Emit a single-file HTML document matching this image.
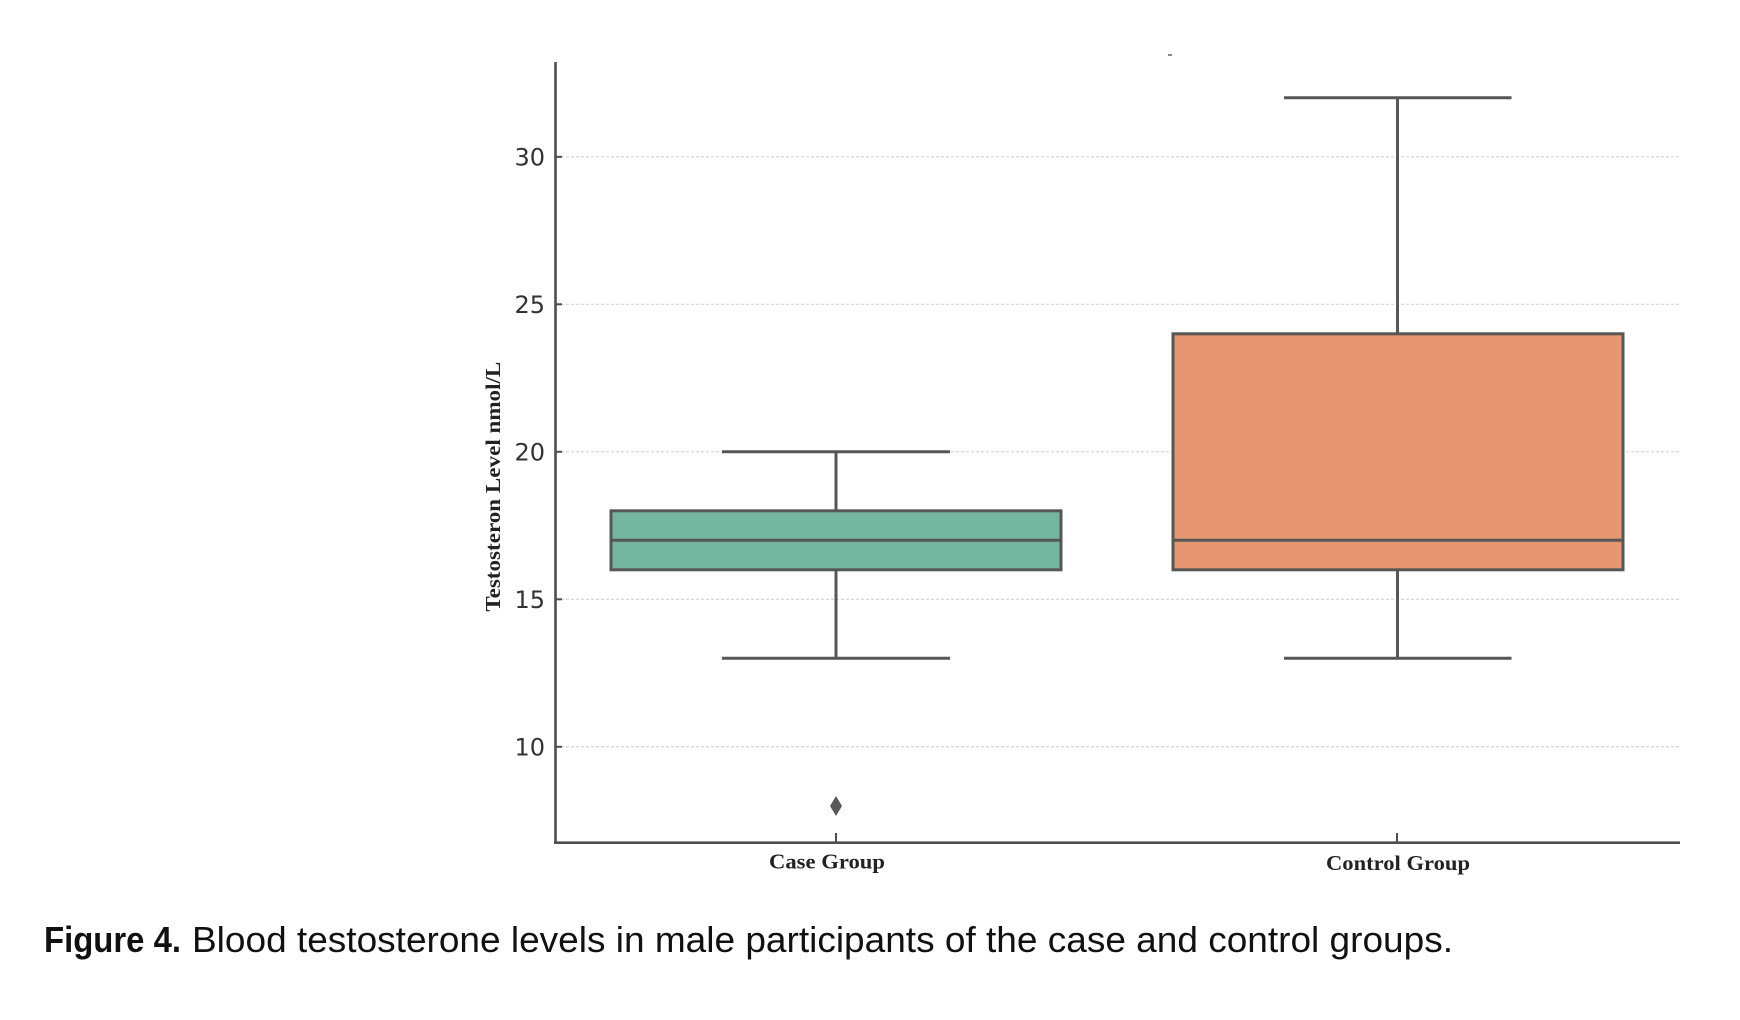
<!DOCTYPE html>
<html>
<head>
<meta charset="utf-8">
<style>
  html, body { margin: 0; padding: 0; background: #ffffff; }
  svg { display: block; }
</style>
</head>
<body>
<svg width="1740" height="1020" viewBox="0 0 1740 1020" xmlns="http://www.w3.org/2000/svg">
  <rect x="0" y="0" width="1740" height="1020" fill="#ffffff"/>

  <!-- tiny artifact at top -->
  <rect x="1168" y="54" width="4" height="2" fill="#888"/>

  <!-- gridlines -->
  <g stroke="#d2d2d2" stroke-width="1.2" stroke-dasharray="3 2">
    <line x1="561" y1="156.8" x2="1680" y2="156.8"/>
    <line x1="561" y1="304.3" x2="1680" y2="304.3"/>
    <line x1="561" y1="451.8" x2="1680" y2="451.8"/>
    <line x1="561" y1="599.3" x2="1680" y2="599.3"/>
    <line x1="561" y1="746.8" x2="1680" y2="746.8"/>
  </g>

  <!-- Case group box -->
  <g stroke="#575757" stroke-width="3" fill="none">
    <line x1="836" y1="510.8" x2="836" y2="451.8"/>
    <line x1="836" y1="569.8" x2="836" y2="658.3"/>
    <line x1="722" y1="451.8" x2="950" y2="451.8"/>
    <line x1="722" y1="658.3" x2="950" y2="658.3"/>
  </g>
  <rect x="611" y="510.8" width="450" height="59" fill="#74b6a0" stroke="#575757" stroke-width="3"/>
  <line x1="611" y1="540.3" x2="1061" y2="540.3" stroke="#575757" stroke-width="3"/>
  <!-- outlier -->
  <polygon points="836,796 842,806 836,816 830,806" fill="#585858"/>

  <!-- Control group box -->
  <g stroke="#575757" stroke-width="3" fill="none">
    <line x1="1397.5" y1="333.8" x2="1397.5" y2="97.8"/>
    <line x1="1397.5" y1="569.8" x2="1397.5" y2="658.3"/>
    <line x1="1284" y1="97.8" x2="1511.5" y2="97.8"/>
    <line x1="1284" y1="658.3" x2="1511.5" y2="658.3"/>
  </g>
  <rect x="1173" y="333.8" width="450" height="236" fill="#e79672" stroke="#575757" stroke-width="3"/>
  <line x1="1173" y1="540.3" x2="1623" y2="540.3" stroke="#575757" stroke-width="3"/>

  <!-- axes spines -->
  <g stroke="#4e4e4e" stroke-width="2.6" fill="none">
    <line x1="555.5" y1="62" x2="555.5" y2="844"/>
    <line x1="554" y1="842.7" x2="1680" y2="842.7"/>
  </g>
  <!-- ticks (inward) -->
  <g stroke="#4e4e4e" stroke-width="2">
    <line x1="555" y1="156.8" x2="562" y2="156.8"/>
    <line x1="555" y1="304.3" x2="562" y2="304.3"/>
    <line x1="555" y1="451.8" x2="562" y2="451.8"/>
    <line x1="555" y1="599.3" x2="562" y2="599.3"/>
    <line x1="555" y1="746.8" x2="562" y2="746.8"/>
    <line x1="836" y1="833" x2="836" y2="843"/>
    <line x1="1397" y1="833" x2="1397" y2="843"/>
  </g>

  <!-- y tick labels -->
  <g font-family="'DejaVu Sans', 'Liberation Sans', sans-serif" font-size="24" fill="#333" text-anchor="end">
    <text x="545" y="165.5">30</text>
    <text x="545" y="313">25</text>
    <text x="545" y="460.5">20</text>
    <text x="545" y="608">15</text>
    <text x="545" y="755.5">10</text>
  </g>

  <!-- y axis label -->
  <text transform="translate(500,486.7) rotate(-90)" text-anchor="middle" font-family="'Liberation Serif', serif" font-weight="bold" font-size="21" fill="#222" textLength="250" lengthAdjust="spacingAndGlyphs">Testosteron Level nmol/L</text>

  <!-- x tick labels -->
  <text x="769" y="868.5" font-family="'Liberation Serif', serif" font-weight="bold" font-size="21" fill="#222" textLength="116" lengthAdjust="spacingAndGlyphs">Case Group</text>
  <text x="1326" y="870" font-family="'Liberation Serif', serif" font-weight="bold" font-size="21" fill="#222" textLength="144" lengthAdjust="spacingAndGlyphs">Control Group</text>

  <!-- caption -->
  <text x="44" y="952" font-family="'Liberation Sans', sans-serif" font-weight="bold" font-size="36" fill="#111" textLength="137" lengthAdjust="spacingAndGlyphs">Figure 4.</text>
  <text x="192" y="952" font-family="'Liberation Sans', sans-serif" font-size="36" fill="#111" textLength="1261" lengthAdjust="spacingAndGlyphs">Blood testosterone levels in male participants of the case and control groups.</text>
</svg>
</body>
</html>
